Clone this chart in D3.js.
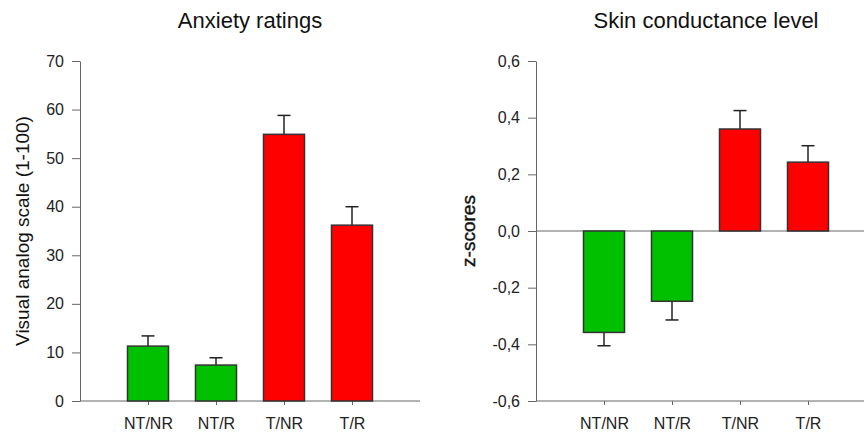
<!DOCTYPE html>
<html>
<head>
<meta charset="utf-8">
<script src="https://cdn.jsdelivr.net/npm/d3@7"></script>
<style>
  body { margin: 0; background: #fff; }
  svg { display: block; font-family: "Liberation Sans", Arial, sans-serif; }
  .tick text { fill: #222; }
</style>
</head>
<body>
<svg id="chart" width="864" height="432"></svg>
<script>
// 数据
const categories = ["NT/NR", "NT/R", "T/NR", "T/R"];
const groups = ["NT", "NT", "T", "T"];

const anxietyMean = [11.3, 7.4, 54.9, 36.2];
const anxietyErr = [2.1, 1.5, 3.9, 3.8];
const anxietyTicks = [0, 10, 20, 30, 40, 50, 60, 70];

const sclMean = [-0.358, -0.248, 0.36, 0.243];
const sclErr = [0.047, 0.066, 0.065, 0.058];
const sclTicks = [-0.6, -0.4, -0.2, 0, 0.2, 0.4, 0.6];

const svg = d3.select("#chart");
const color = d3.scaleOrdinal().domain(["NT", "T"]).range(["#00c000", "#ff0000"]);

const plotTop = 61, plotBottom = 401, axisLen = 340, barW = 41, capW = 13;

function drawPanel(opts) {
  const g = svg.append("g");
  const x0 = opts.axisX;

  const x = d3.scalePoint()
    .domain(categories)
    .range([x0 + axisLen / 5, x0 + axisLen * 4 / 5]);

  const y = d3.scaleLinear()
    .domain(opts.domain)
    .range([plotBottom, plotTop]);

  // 标题
  g.append("text")
    .attr("x", x0 + axisLen / 2)
    .attr("y", 28)
    .attr("text-anchor", "middle")
    .attr("font-size", 22)
    .attr("fill", "#111")
    .text(opts.title);

  // y 轴标题
  g.append("text")
    .attr("transform", `translate(${opts.labelX}, ${(plotTop + plotBottom) / 2}) rotate(-90)`)
    .attr("text-anchor", "middle")
    .attr("font-size", 19)
    .attr("fill", "#111")
    .attr("stroke", opts.labelStroke ? "#111" : null)
    .attr("stroke-width", opts.labelStroke ? 0.4 : null)
    .text(opts.yLabel);

  // y 轴
  const yAxis = g.append("g")
    .attr("transform", `translate(${x0},0)`)
    .call(d3.axisLeft(y)
      .tickValues(opts.ticks)
      .tickSize(8)
      .tickSizeOuter(0)
      .tickPadding(8)
      .tickFormat(opts.format));
  yAxis.selectAll("text").attr("font-size", 16).attr("font-family", null);
  yAxis.selectAll("path, line").attr("stroke", "#666");

  // 底部分类轴
  const xAxis = g.append("g")
    .attr("transform", `translate(0,${plotBottom})`)
    .call(d3.axisBottom(x).tickSize(4).tickPadding(13));
  xAxis.select(".domain").remove();
  xAxis.selectAll("text").attr("font-size", 16).attr("font-family", null);
  xAxis.selectAll("line").attr("stroke", "#666");

  g.append("line")
    .attr("x1", x0).attr("x2", Math.min(x0 + axisLen, 864))
    .attr("y1", plotBottom).attr("y2", plotBottom)
    .attr("stroke", "#666");

  // 零线
  if (opts.domain[0] < 0) {
    g.append("line")
      .attr("x1", x0).attr("x2", Math.min(x0 + axisLen, 864))
      .attr("y1", y(0)).attr("y2", y(0))
      .attr("stroke", "#666");
  }

  const data = categories.map((c, i) => ({
    cat: c, group: groups[i], mean: opts.mean[i], err: opts.err[i]
  }));

  // 误差线
  const eb = g.append("g").attr("stroke", "#222").attr("stroke-width", 1.5);
  eb.selectAll(".stem")
    .data(data)
    .join("line")
    .attr("class", "stem")
    .attr("x1", d => x(d.cat)).attr("x2", d => x(d.cat))
    .attr("y1", d => y(d.mean))
    .attr("y2", d => y(d.mean + Math.sign(d.mean) * d.err));
  eb.selectAll(".cap")
    .data(data)
    .join("line")
    .attr("class", "cap")
    .attr("x1", d => x(d.cat) - capW / 2).attr("x2", d => x(d.cat) + capW / 2)
    .attr("y1", d => y(d.mean + Math.sign(d.mean) * d.err))
    .attr("y2", d => y(d.mean + Math.sign(d.mean) * d.err));

  // 柱子
  g.append("g").selectAll("rect")
    .data(data)
    .join("rect")
    .attr("x", d => x(d.cat) - barW / 2)
    .attr("width", barW)
    .attr("y", d => y(Math.max(0, d.mean)))
    .attr("height", d => Math.abs(y(d.mean) - y(0)))
    .attr("fill", d => color(d.group))
    .attr("stroke", "#333")
    .attr("stroke-width", 1.5);
}

drawPanel({
  axisX: 80,
  domain: [0, 70],
  ticks: anxietyTicks,
  format: d3.format("d"),
  mean: anxietyMean,
  err: anxietyErr,
  title: "Anxiety ratings",
  yLabel: "Visual analog scale (1-100)",
  labelX: 29,
  labelStroke: false
});

drawPanel({
  axisX: 536,
  domain: [-0.6, 0.6],
  ticks: sclTicks,
  format: d => d3.format(".1f")(d).replace(".", ",").replace("−", "-"),
  mean: sclMean,
  err: sclErr,
  title: "Skin conductance level",
  yLabel: "z-scores",
  labelX: 475,
  labelStroke: true
});
</script>
</body>
</html>
